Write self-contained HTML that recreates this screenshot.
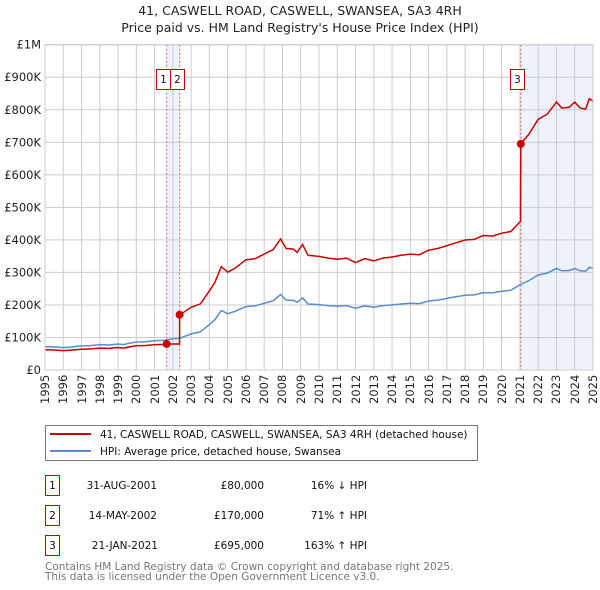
<!DOCTYPE html>
<html><head><meta charset="utf-8"><style>
body{margin:0;background:#fff;font-family:"DejaVu Sans","Liberation Sans",sans-serif;}
svg text{font-family:"DejaVu Sans","Liberation Sans",sans-serif;}
#wrap{position:relative;width:600px;height:590px;}
#c{position:absolute;left:0;top:0;}
.xl{position:absolute;top:374px;width:14px;height:30px;font-size:11.5px;line-height:14px;color:#222;writing-mode:vertical-rl;transform:rotate(180deg);text-align:left;white-space:nowrap;}
</style></head><body>
<div id="wrap">
<svg id="c" width="600" height="590" xmlns="http://www.w3.org/2000/svg">
<text x="300" y="15" text-anchor="middle" font-size="12.5" fill="#222">41, CASWELL ROAD, CASWELL, SWANSEA, SA3 4RH</text>
<text x="300" y="32" text-anchor="middle" font-size="12.5" fill="#222">Price paid vs. HM Land Registry's House Price Index (HPI)</text>
<g id="grid"></g>
<g id="marks"></g>
<g id="axes"></g>
<g>
<rect x="45.5" y="425.5" width="432" height="35" fill="#fff" stroke="#777"/>
<line x1="50" y1="434" x2="91" y2="434" stroke="#cc0000" stroke-width="2"/>
<text x="100" y="438" font-size="10.5" fill="#111">41, CASWELL ROAD, CASWELL, SWANSEA, SA3 4RH (detached house)</text>
<line x1="50" y1="451" x2="91" y2="451" stroke="#5b8bd0" stroke-width="2"/>
<text x="100" y="455" font-size="10.5" fill="#111">HPI: Average price, detached house, Swansea</text>
</g>
<g font-size="10.5" fill="#111">
<rect x="45.5" y="475.5" width="14" height="20" fill="none" stroke="#cc0000"/><text x="52.5" y="489" text-anchor="middle">1</text>
<text x="157" y="489" text-anchor="end">31-AUG-2001</text>
<text x="264" y="489" text-anchor="end">£80,000</text>
<text x="367" y="489" text-anchor="end">16% ↓ HPI</text>
<rect x="45.5" y="505.5" width="14" height="20" fill="none" stroke="#cc0000"/><text x="52.5" y="519" text-anchor="middle">2</text>
<text x="157" y="519" text-anchor="end">14-MAY-2002</text>
<text x="264" y="519" text-anchor="end">£170,000</text>
<text x="367" y="519" text-anchor="end">71% ↑ HPI</text>
<rect x="45.5" y="535.5" width="14" height="20" fill="none" stroke="#cc0000"/><text x="52.5" y="549" text-anchor="middle">3</text>
<text x="158" y="549" text-anchor="end">21-JAN-2021</text>
<text x="264" y="549" text-anchor="end">£695,000</text>
<text x="367" y="549" text-anchor="end">163% ↑ HPI</text>
</g>
<text x="45" y="570" font-size="10.5" fill="#777">Contains HM Land Registry data © Crown copyright and database right 2025.</text>
<text x="45" y="580" font-size="10.5" fill="#777">This data is licensed under the Open Government Licence v3.0.</text>
</svg>
</div>
<script>
const hpiYears=[1995,1995.5,1996,1996.5,1997,1997.5,1998,1998.5,1999,1999.3,1999.6,2000,2000.5,2001,2001.5,2002,2002.4,2003,2003.5,2004,2004.3,2004.65,2005.0,2005.4,2006,2006.5,2007,2007.5,2007.9,2008.2,2008.6,2008.8,2009.1,2009.4,2010,2010.5,2011,2011.5,2012,2012.5,2013,2013.5,2014,2014.5,2015,2015.5,2016,2016.5,2017,2017.5,2018,2018.5,2019,2019.5,2020,2020.5,2021,2021.5,2022,2022.5,2023,2023.3,2023.7,2024,2024.3,2024.6,2024.8,2025];
const hpiValues=[72000,71000,69000,71000,74000,75000,78000,77000,80000,78000,82000,86000,87000,90000,91000,96000,98000,111000,117000,140000,155000,183000,173000,180000,195000,197000,205000,213000,232000,215000,214000,208000,222000,203000,201000,198000,196000,198000,190000,197000,193000,198000,200000,203000,205000,204000,212000,215000,220000,225000,230000,231000,238000,237000,242000,245000,262000,275000,292000,298000,312000,305000,306000,312000,305000,304000,316000,313000];
const saleDates=[2001.66,2002.37,2021.05];
const salePrices=[80000,170000,695000];
const yTicks=[0,100000,200000,300000,400000,500000,600000,700000,800000,900000,1000000];
const yLabels=["£0","£100K","£200K","£300K","£400K","£500K","£600K","£700K","£800K","£900K","£1M"];
const xTicks=[1995,1996,1997,1998,1999,2000,2001,2002,2003,2004,2005,2006,2007,2008,2009,2010,2011,2012,2013,2014,2015,2016,2017,2018,2019,2020,2021,2022,2023,2024,2025];

const X0=45,X1=593,Y0=370,Y1=44.7;
const xs=t=>X0+(t-1995)/30*(X1-X0);
const ys=v=>Y0-v/1000000*(Y0-Y1);
const NS="http://www.w3.org/2000/svg";
function mk(tag,attrs,parent){const e=document.createElementNS(NS,tag);for(const k in attrs)e.setAttribute(k,attrs[k]);parent.appendChild(e);return e;}
function hpiAt(t){for(let i=0;i<hpiYears.length-1;i++){if(t<=hpiYears[i+1]){const f=(t-hpiYears[i])/(hpiYears[i+1]-hpiYears[i]);return hpiValues[i]+f*(hpiValues[i+1]-hpiValues[i]);}}return hpiValues[hpiValues.length-1];}
const grid=document.getElementById('grid'),marks=document.getElementById('marks'),axes=document.getElementById('axes');
const wrap=document.getElementById('wrap');

let sh=mk('rect',{x:xs(saleDates[0]),y:Y1,width:xs(saleDates[1])-xs(saleDates[0]),height:Y0-Y1,fill:'#eef2fb'},grid);

let sh2=mk('rect',{x:xs(saleDates[2]),y:Y1,width:X1-xs(saleDates[2]),height:Y0-Y1,fill:'#eef2fb'},grid);


yTicks.forEach((v,i)=>{
 const l=mk('line',{x1:X0,x2:X1,y1:ys(v),y2:ys(v),stroke:'#cccccc','stroke-width':1},grid);
 
 const t=mk('text',{x:X0-4,y:ys(v)+4,'text-anchor':'end','font-size':'11.5',fill:'#222'},axes);t.textContent=yLabels[i];
 
});
xTicks.forEach(yr=>{
 const l=mk('line',{x1:xs(yr),x2:xs(yr),y1:Y1,y2:Y0,stroke:'#cccccc','stroke-width':1},grid);
 
 const d=document.createElement('div');
 d.className='xl';
 d.style.left=(xs(yr)-7)+'px';
 d.textContent=yr;
 
 
 wrap.appendChild(d);
});
let fr=mk('rect',{x:X0,y:Y1,width:X1-X0,height:Y0-Y1,fill:'none',stroke:'#cccccc'},axes);


saleDates.forEach((d,i)=>{
 const l=mk('line',{x1:xs(d),x2:xs(d),y1:Y1,y2:Y0,stroke:'#e06060','stroke-width':1,'stroke-dasharray':'2,2'},marks);
 
});

let hp=hpiYears.map((t,i)=>xs(t).toFixed(1)+','+ys(hpiValues[i]).toFixed(1)).join(' ');
let hl=mk('polyline',{points:hp,fill:'none',stroke:'#5b8bd0','stroke-width':1.5},marks);


let pts=[];
function ratioAt(k){return salePrices[k]/hpiAt(saleDates[k]);}
hpiYears.forEach((t,i)=>{ if(t<saleDates[0]) pts.push([t,hpiValues[i]*ratioAt(0)]); });
pts.push([saleDates[0],salePrices[0]]);
pts.push([saleDates[1],salePrices[0]]);
pts.push([saleDates[1],salePrices[1]]);
hpiYears.forEach((t,i)=>{ if(t>saleDates[1]&&t<saleDates[2]) pts.push([t,hpiValues[i]*ratioAt(1)]); });
pts.push([saleDates[2]-0.02,hpiAt(saleDates[2]-0.02)*ratioAt(1)]);
pts.push([saleDates[2],salePrices[2]]);
hpiYears.forEach((t,i)=>{ if(t>saleDates[2]) pts.push([t,hpiValues[i]*ratioAt(2)]); });
let pl=mk('polyline',{points:pts.map(p=>xs(p[0]).toFixed(1)+','+ys(p[1]).toFixed(1)).join(' '),fill:'none',stroke:'#cc0000','stroke-width':1.5},marks);


saleDates.forEach((d,i)=>{
 const c=mk('circle',{cx:xs(d),cy:ys(salePrices[i]),r:4,fill:'#cc0000'},marks);
 
});
[0,1,2].forEach(i=>{
 const bx=i==0?xs(saleDates[0])-11:(i==1?xs(saleDates[0])+3:xs(saleDates[2])-11);
 const g=mk('g',{},marks);
 
 mk('rect',{x:Math.round(bx)+0.5,y:69.5,width:14,height:20,fill:'#fff',stroke:'#cc0000'},g);
 const t=mk('text',{x:Math.round(bx)+7.5,y:83,'text-anchor':'middle','font-size':'10.5',fill:'#111'},g);t.textContent=String(i+1);
});
</script>
</body></html>
